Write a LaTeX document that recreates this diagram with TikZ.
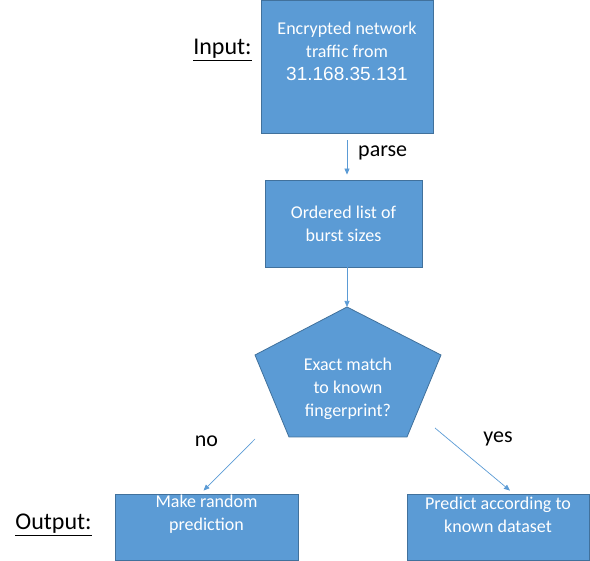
\documentclass[tikz,border=0pt]{standalone}
\usepackage{fontspec}
\setmainfont{Carlito}
\newfontfamily\ipfont{Liberation Sans}
\definecolor{boxblue}{RGB}{91, 155, 213}
\definecolor{boxedge}{RGB}{65, 113, 156}
\definecolor{arrowblue}{RGB}{91, 155, 213}
\usetikzlibrary{arrows.meta, positioning, calc}

\begin{document}
\begin{tikzpicture}[x=1pt, y=-1pt,
  stepbox/.style={draw=boxedge, fill=boxblue, line width=0.8pt, inner sep=0pt},
  boxtext/.style={text=white, align=center, font=\fontsize{18}{23}\selectfont, inner sep=0pt},
  flow/.style={draw=arrowblue, line width=0.7pt, -{Triangle[length=6pt, width=5pt]}},
  tag/.style={font=\fontsize{22}{26}\selectfont, inner sep=0pt},
  side/.style={font=\fontsize{24}{28}\selectfont, inner sep=0pt, anchor=base}]
  \useasboundingbox (0,0) rectangle (590,561);

  % Input box
  \node[stepbox, minimum width=172pt, minimum height=133pt,
        label={[boxtext, yshift=15pt]center:{Encrypted network\\traffic from\\{\ipfont\fontsize{19}{23}\selectfont 31.168.35.131}}}]
        (traffic) at (347,66.5) {};
  \node[side] (input) at (222.5,55) {\underline{Input:}};

  % Parsed bursts
  \node[stepbox, boxtext, minimum width=157pt, minimum height=87pt] (bursts) at (343.5,223.5)
        {Ordered list of\\burst sizes};

  % Decision pentagon
  \coordinate (apex) at (347,307);
  \coordinate (pr) at (441,355);
  \coordinate (pbr) at (407,437);
  \coordinate (pbl) at (289,437);
  \coordinate (pl) at (255,355);
  \draw[stepbox] (apex) -- (pr) -- (pbr) -- (pbl) -- (pl) -- cycle;
  \node[boxtext] (match) at (348,389) {Exact match\\to known\\fingerprint?};

  % Outputs
  \node[stepbox, minimum width=183pt, minimum height=66pt,
        label={[boxtext, yshift=12.5pt]center:{Make random\\prediction}}]
        (random) at (206.5,527) {};
  \node[stepbox, minimum width=182pt, minimum height=66pt,
        label={[boxtext, yshift=12.5pt]center:{Predict according to\\known dataset}}]
        (known) at (498,527) {};
  \node[side] (output) at (53.5,530) {\underline{Output:}};

  % Arrows
  \draw[flow, shorten <=7pt, shorten >=5pt] (traffic.south) -- (traffic.south |- bursts.north);
  \node[tag, anchor=base west] (parse) at (358,157) {parse};
  \draw[flow] (bursts.south -| apex) -- (apex);

  \coordinate (nofrom) at (255,439);
  \coordinate (yesfrom) at (435,428);
  \draw[flow] (nofrom) -- ([xshift=-3pt, yshift=3pt]random.north);
  \draw[flow] (yesfrom) -- ([xshift=12pt, yshift=3pt]known.north);
  \node[tag, anchor=base] (no) at (206.5,447) {no};
  \node[tag, anchor=base] (yes) at (498,443) {yes};
\end{tikzpicture}
\end{document}
